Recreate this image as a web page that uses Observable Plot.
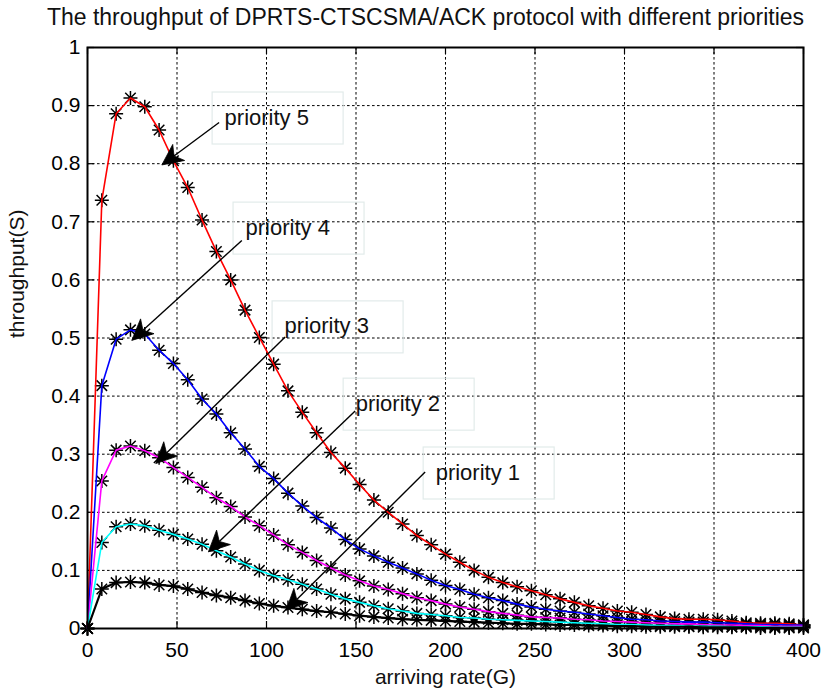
<!DOCTYPE html>
<html>
<head>
<meta charset="utf-8">
<script src="https://cdn.jsdelivr.net/npm/d3@7"></script>
<script src="https://cdn.jsdelivr.net/npm/@observablehq/plot@0.6"></script>
<style>
  body { margin: 0; background: #fff; }
  svg { display: block; }
</style>
</head>
<body>
<div id="chart"></div>
<script>
// Arriving rate G (sampled every 8 units) and throughput S for each priority class
const arrivingRate = d3.range(0, 401, 8);

const priority5 = [0, 0.737, 0.886, 0.913, 0.898, 0.858, 0.805, 0.759, 0.703, 0.649, 0.600,
  0.548, 0.501, 0.455, 0.409, 0.372, 0.337, 0.303, 0.276, 0.248, 0.221,
  0.200, 0.180, 0.160, 0.144, 0.128, 0.114, 0.100, 0.088, 0.079, 0.072,
  0.065, 0.058, 0.051, 0.045, 0.039, 0.035, 0.030, 0.028, 0.024, 0.020,
  0.017, 0.016, 0.016, 0.015, 0.013, 0.010, 0.009, 0.009, 0.008, 0.006];

const priority4 = [0, 0.418, 0.498, 0.514, 0.507, 0.479, 0.456, 0.428, 0.395, 0.369, 0.337,
  0.309, 0.279, 0.258, 0.233, 0.211, 0.191, 0.173, 0.153, 0.137, 0.125,
  0.114, 0.104, 0.094, 0.083, 0.074, 0.067, 0.059, 0.053, 0.048, 0.042,
  0.037, 0.033, 0.030, 0.028, 0.025, 0.022, 0.019, 0.016, 0.015, 0.013,
  0.012, 0.011, 0.011, 0.010, 0.009, 0.008, 0.007, 0.007, 0.006, 0.006];

const priority3 = [0, 0.254, 0.307, 0.314, 0.306, 0.294, 0.277, 0.260, 0.243, 0.225, 0.210,
  0.192, 0.177, 0.161, 0.144, 0.131, 0.117, 0.104, 0.092, 0.082, 0.073,
  0.067, 0.060, 0.053, 0.048, 0.042, 0.037, 0.033, 0.029, 0.026, 0.023,
  0.020, 0.019, 0.018, 0.016, 0.015, 0.013, 0.012, 0.011, 0.010, 0.009,
  0.008, 0.008, 0.007, 0.006, 0.006, 0.005, 0.005, 0.004, 0.004, 0.004];

const priority2 = [0, 0.148, 0.175, 0.180, 0.177, 0.169, 0.162, 0.154, 0.145, 0.134, 0.123,
  0.111, 0.100, 0.091, 0.084, 0.076, 0.068, 0.059, 0.051, 0.045, 0.039,
  0.034, 0.030, 0.026, 0.024, 0.022, 0.019, 0.018, 0.016, 0.015, 0.014,
  0.013, 0.012, 0.011, 0.010, 0.009, 0.008, 0.007, 0.007, 0.006, 0.005,
  0.005, 0.004, 0.004, 0.004, 0.003, 0.003, 0.003, 0.002, 0.002, 0.002];

const priority1 = [0, 0.068, 0.079, 0.080, 0.079, 0.075, 0.073, 0.068, 0.062, 0.057, 0.053,
  0.048, 0.043, 0.039, 0.036, 0.033, 0.030, 0.028, 0.025, 0.022, 0.020,
  0.018, 0.016, 0.015, 0.014, 0.013, 0.012, 0.011, 0.010, 0.009, 0.008,
  0.008, 0.007, 0.006, 0.006, 0.005, 0.005, 0.004, 0.004, 0.003, 0.003,
  0.003, 0.003, 0.002, 0.002, 0.002, 0.002, 0.001, 0.001, 0.001, 0.001];

const seriesNames = ["priority 5", "priority 4", "priority 3", "priority 2", "priority 1"];
const seriesValues = [priority5, priority4, priority3, priority2, priority1];
const seriesColors = ["#ff0000", "#0000ff", "#ff00ff", "#00ffff", "#000000"];
const seriesWidths = [1.6, 1.6, 1.6, 1.6, 2.2];

// Axis ticks
const xTicks = [0, 50, 100, 150, 200, 250, 300, 350, 400];
const yTicks = [0, 0.1, 0.2, 0.3, 0.4, 0.5, 0.6, 0.7, 0.8, 0.9, 1];
const yTickLabels = ["0", "0.1", "0.2", "0.3", "0.4", "0.5", "0.6", "0.7", "0.8", "0.9", "1"];

// Text arrows: label anchor, arrow tail and arrow tip, in data units
const noteLabels = ["priority 5", "priority 4", "priority 3", "priority 2", "priority 1"];
const noteTextX = [76.6, 88.3, 110.1, 149.8, 194.5];
const noteTextY = [0.8795, 0.690, 0.520, 0.387, 0.2685];
const noteTailX = [73.8, 86.5, 110.7, 149.8, 188.9];
const noteTailY = [0.870, 0.667, 0.501, 0.3735, 0.2685];
const noteTipX = [41.8, 25.0, 38.4, 67.8, 111.2];
const noteTipY = [0.797, 0.495, 0.283, 0.131, 0.0305];

const rows = seriesNames.flatMap((name, k) =>
  arrivingRate.map((g, i) => ({series: name, G: g, S: seriesValues[k][i]})));
const notes = noteLabels.map((label, i) => ({
  label, tx: noteTextX[i], ty: noteTextY[i],
  ax: noteTailX[i], ay: noteTailY[i], hx: noteTipX[i], hy: noteTipY[i]
}));

// MATLAB-style '*' marker: a plus and a cross on top of each other
const asterisk = {
  draw(ctx, size) {
    const r = Math.sqrt(size / Math.PI);
    const d = r * 0.75;
    ctx.moveTo(-r, 0); ctx.lineTo(r, 0);
    ctx.moveTo(0, -r); ctx.lineTo(0, r);
    ctx.moveTo(-d, -d); ctx.lineTo(d, d);
    ctx.moveTo(-d, d); ctx.lineTo(d, -d);
  }
};

// Boxes, shafts and filled arrowheads of the text arrows
function textArrows(...args) {
  const scales = args.find(a => a && typeof a.x === "function" && typeof a.y === "function");
  const sx = scales.x, sy = scales.y;
  const g = d3.create("svg:g");
  for (const n of notes) {
    const tx = sx(n.tx), ty = sy(n.ty);
    g.append("rect")
      .attr("x", tx - 12).attr("y", ty - 25)
      .attr("width", 131).attr("height", 52)
      .attr("fill", "none").attr("stroke", "#e2ebea").attr("stroke-width", 1.2);
    const x0 = sx(n.ax), y0 = sy(n.ay), x1 = sx(n.hx), y1 = sy(n.hy);
    const len = Math.hypot(x1 - x0, y1 - y0);
    const ux = (x1 - x0) / len, uy = (y1 - y0) / len;
    const nx = -uy, ny = ux;
    const L = 21, W = 10, notch = 0.72 * L;
    g.append("line")
      .attr("x1", x0).attr("y1", y0)
      .attr("x2", x1 - ux * notch).attr("y2", y1 - uy * notch)
      .attr("stroke", "#000").attr("stroke-width", 1.4);
    const pts = [
      [x1, y1],
      [x1 - ux * L + nx * W, y1 - uy * L + ny * W],
      [x1 - ux * notch, y1 - uy * notch],
      [x1 - ux * L - nx * W, y1 - uy * L - ny * W]
    ];
    g.append("path")
      .attr("d", "M" + pts.map(p => p.join(",")).join("L") + "Z")
      .attr("fill", "#000").attr("stroke", "#000").attr("stroke-width", 0.8);
  }
  return g.node();
}

const width = 824, height = 698;
const frameH = 628 - 47, frameW = 803 - 87;

const chart = Plot.plot({
  width, height,
  marginLeft: 87, marginRight: 21, marginTop: 47, marginBottom: 70,
  style: {fontFamily: "'Liberation Sans', Arial, Helvetica, sans-serif", background: "#fff", color: "#000"},
  x: {domain: [0, 400]},
  y: {domain: [0, 1]},
  marks: [
    // dotted grid
    Plot.ruleX(xTicks.slice(1, -1), {stroke: "#000", strokeWidth: 1, strokeDasharray: "2.6,2.4"}),
    Plot.ruleY(yTicks.slice(1, -1), {stroke: "#000", strokeWidth: 1, strokeDasharray: "2.6,2.4"}),
    // inward ticks on all four sides
    Plot.tickX(xTicks, {stroke: "#000", strokeWidth: 1.2, insetTop: frameH - 7}),
    Plot.tickX(xTicks, {stroke: "#000", strokeWidth: 1.2, insetBottom: frameH - 7}),
    Plot.tickY(yTicks, {stroke: "#000", strokeWidth: 1.2, insetRight: frameW - 7}),
    Plot.tickY(yTicks, {stroke: "#000", strokeWidth: 1.2, insetLeft: frameW - 7}),
    // markers
    Plot.dot(rows, {x: "G", y: "S", symbol: asterisk, r: 7, stroke: "#000", fill: "none", strokeWidth: 1.5}),
    // colored curves
    ...seriesNames.map((name, k) =>
      Plot.line(rows.filter(d => d.series === name), {
        x: "G", y: "S", stroke: seriesColors[k], strokeWidth: seriesWidths[k]
      })),
    Plot.frame({stroke: "#000", strokeWidth: 2}),
    // tick labels
    Plot.axisX({ticks: xTicks, tickSize: 0, tickPadding: 14, fontSize: 21, label: null}),
    Plot.axisY({ticks: yTicks, tickSize: 0, tickPadding: 7, fontSize: 21, label: null,
      tickFormat: d => yTickLabels[yTicks.indexOf(d)]}),
    // annotations
    textArrows,
    Plot.text(notes, {x: "tx", y: "ty", text: "label", textAnchor: "start", fontSize: 22, fill: "#111"}),
    // axis titles and chart title
    Plot.text(["arriving rate(G)"], {frameAnchor: "bottom", dy: 55, fontSize: 21, fill: "#111"}),
    Plot.text(["throughput(S)"], {frameAnchor: "left", dx: -70, rotate: -90, fontSize: 21, fill: "#111"}),
    Plot.text(["The throughput of DPRTS-CTSCSMA/ACK protocol with different priorities"],
      {frameAnchor: "top", dx: -20, dy: -39, fontSize: 23, fill: "#111"})
  ]
});

document.getElementById("chart").appendChild(chart);
</script>
</body>
</html>
